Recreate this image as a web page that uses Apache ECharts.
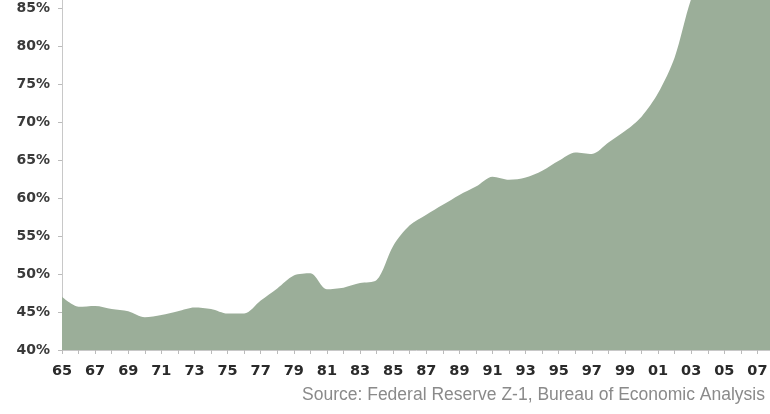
<!DOCTYPE html>
<html><head><meta charset="utf-8">
<script src="https://cdn.jsdelivr.net/npm/echarts@6/dist/echarts.min.js"></script>
<style>html,body{margin:0;padding:0;background:#fff}#c{width:770px;height:414px}</style>
</head><body><div id="c"></div>
<script>
const years = ['65','66','67','68','69','70','71','72','73','74','75','76','77','78','79','80','81','82','83','84','85','86','87','88','89','90','91','92','93','94','95','96','97','98','99','00','01','02','03','04','05','06','07','08'];
const debtPct = [47.0,45.7,45.8,45.4,45.1,44.3,44.6,45.1,45.6,45.4,44.8,44.8,46.5,48.1,49.8,50.1,48.0,48.2,48.8,49.2,53.7,56.4,57.8,59.1,60.4,61.5,62.8,62.4,62.7,63.6,64.9,66.0,65.8,67.3,68.8,70.7,73.8,78.5,86.2,91,95,97,98,97];
const yTicks = {min:40, max:90, interval:5};
const sourceText = 'Source: Federal Reserve Z-1, Bureau of Economic Analysis';

const chart = echarts.init(document.getElementById('c'));
chart.setOption({
  animation:false,
  grid:{left:62, right:-4, top:-30, bottom:64, outerBoundsMode:'none', containLabel:false},
  xAxis:{type:'category', data:years, boundaryGap:false,
    axisLine:{lineStyle:{color:'#c8c8c8', width:1}},
    axisTick:{show:true, interval:0, length:4, lineStyle:{color:'#bbb'}},
    axisLabel:{interval:1, color:'#2a2a2a', fontFamily:'DejaVu Sans', fontWeight:'bold', fontSize:14.5, margin:14},
    splitLine:{show:false}},
  yAxis:{type:'value', min:yTicks.min, max:yTicks.max, interval:yTicks.interval,
    axisLine:{show:true, lineStyle:{color:'#c8c8c8'}},
    axisTick:{show:true, length:4, lineStyle:{color:'#bbb'}},
    axisLabel:{formatter:'{value}%', color:'#3a3a3a', fontFamily:'DejaVu Sans', fontWeight:'bold', fontSize:14, margin:12},
    splitLine:{show:false}},
  graphic:[{type:'text', right:5, top:386, style:{text:sourceText, fill:'#8a8a8a', font:'17.5px "Liberation Sans", Arial, sans-serif'}}],
  series:[{type:'line', data:debtPct, smooth:0.3, symbol:'none',
    lineStyle:{width:0}, areaStyle:{color:'#9bae99', opacity:1}, z:1}]
});
</script></body></html>
